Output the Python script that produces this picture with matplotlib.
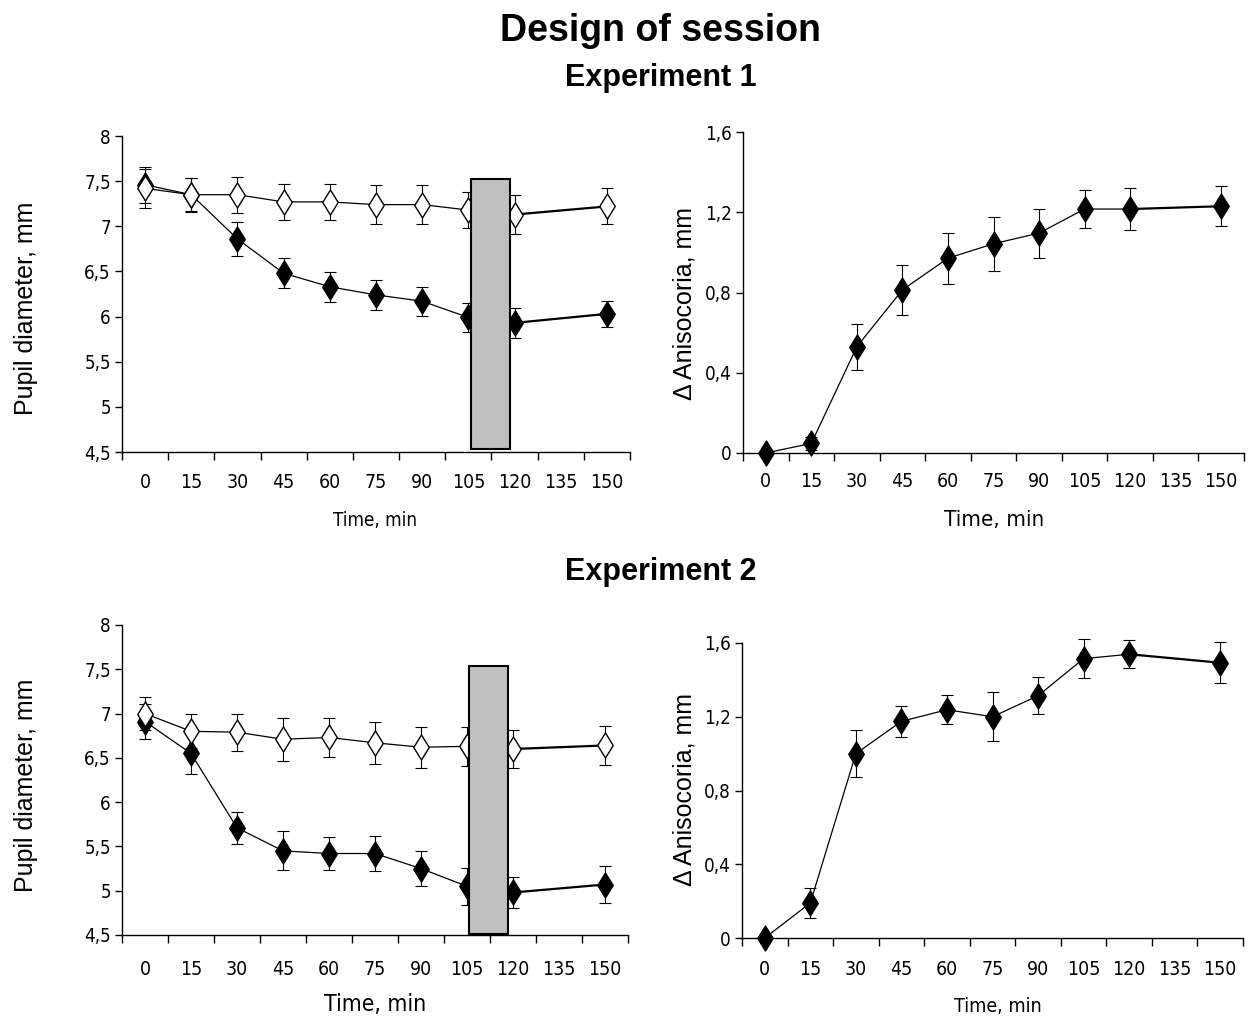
import matplotlib
matplotlib.use("Agg")
import matplotlib.pyplot as plt
from matplotlib import font_manager
from matplotlib.font_manager import FontProperties
from matplotlib.patches import Rectangle
from matplotlib.path import Path

# Category axis (Excel style): labels at centres, ticks between categories
time_labels = ["0", "15", "30", "45", "60", "75", "90", "105", "120", "135", "150"]
sample_times = [0, 15, 30, 45, 60, 75, 90, 105, 120, 150]

# Experiment 1 - pupil diameter (mm)
exp1_open = [7.42, 7.35, 7.35, 7.27, 7.27, 7.24, 7.24, 7.18, 7.13, 7.22]
exp1_open_err = [0.22, 0.19, 0.2, 0.2, 0.2, 0.22, 0.22, 0.2, 0.22, 0.2]
exp1_filled = [7.46, 7.35, 6.86, 6.48, 6.33, 6.24, 6.17, 5.99, 5.93, 6.03]
exp1_filled_err = [0.2, 0.18, 0.19, 0.165, 0.165, 0.17, 0.16, 0.16, 0.17, 0.14]
# Experiment 1 - anisocoria (mm)
exp1_aniso = [0.0, 0.048, 0.53, 0.813, 0.971, 1.043, 1.096, 1.216, 1.216, 1.23]
exp1_aniso_err = [0.0, 0.034, 0.114, 0.125, 0.127, 0.135, 0.122, 0.095, 0.106, 0.10]

# Experiment 2 - pupil diameter (mm)
exp2_open = [7.0, 6.8, 6.79, 6.71, 6.73, 6.67, 6.62, 6.63, 6.6, 6.64]
exp2_open_err = [0.185, 0.19, 0.21, 0.24, 0.22, 0.24, 0.23, 0.22, 0.21, 0.22]
exp2_filled = [6.91, 6.55, 5.71, 5.45, 5.42, 5.42, 5.25, 5.05, 4.98, 5.07]
exp2_filled_err = [0.2, 0.23, 0.18, 0.22, 0.19, 0.2, 0.2, 0.21, 0.18, 0.21]
# Experiment 2 - anisocoria (mm)
exp2_aniso = [0.0, 0.19, 1.0, 1.175, 1.238, 1.2, 1.314, 1.515, 1.539, 1.493]
exp2_aniso_err = [0.0, 0.083, 0.127, 0.084, 0.08, 0.133, 0.1, 0.107, 0.075, 0.112]

# grey stimulus block (time span in min, diameter span in mm)
exp1_block = (106, 118.5, 4.53, 7.52)
exp2_block = (105.5, 118.5, 4.51, 7.54)

plt.rcParams["font.family"] = ["Liberation Sans", "DejaVu Sans"]


def find_narrow_font():
    # Excel chart used Arial Narrow; pick the closest condensed face available
    files = [f.fname for f in font_manager.fontManager.ttflist]
    for key in ["LiberationSansNarrow-Regular", "ArialNarrow", "DejaVuSansCondensed.ttf",
                "OpenSans_Condensed-Regular", "OpenSansCondensed-Regular", "Condensed-Regular"]:
        for fn in files:
            if key.lower() in fn.lower().replace(" ", ""):
                return fn
    return None


narrow_file = find_narrow_font()


def narrow(size):
    if narrow_file:
        return FontProperties(fname=narrow_file, size=size)
    return FontProperties(family="Liberation Sans", size=size * 0.9)


def pos(t):
    return t / 15 + 0.5


diamond = Path([(0, 1), (0.62, 0), (0, -1), (-0.62, 0), (0, 1)],
               [Path.MOVETO, Path.LINETO, Path.LINETO, Path.LINETO, Path.CLOSEPOLY])


def setup_axis(ax, ylim, yticks, ylabels, pad):
    ax.set_xlim(0, len(time_labels))
    ax.set_ylim(*ylim)
    for s in ["top", "right"]:
        ax.spines[s].set_visible(False)
    for s in ["left", "bottom"]:
        ax.spines[s].set_linewidth(1.0)
    ax.set_xticks([i + 0.5 for i in range(len(time_labels))])
    ax.set_xticklabels(time_labels, fontproperties=narrow(14))
    ax.set_xticks(range(len(time_labels) + 1), minor=True)
    ax.tick_params(axis="x", which="major", length=0, pad=pad)
    ax.tick_params(axis="x", which="minor", length=6, width=1.0, direction="out")
    ax.set_yticks(yticks)
    ax.set_yticklabels(ylabels, fontproperties=narrow(13.5))
    ax.tick_params(axis="y", length=5, width=1.0, direction="out", pad=3)


def draw_series(ax, values, errs, face, z):
    xs = [pos(t) for t in sample_times]
    ax.errorbar(xs, values, yerr=errs, fmt="none", ecolor="black",
                elinewidth=0.8, capsize=4, capthick=0.8, zorder=z, clip_on=False)
    ax.plot(xs[:-1], values[:-1], color="black", lw=0.9, zorder=z + 0.1)
    ax.plot(xs[-2:], values[-2:], color="black", lw=1.6, zorder=z + 0.1)
    ax.plot(xs, values, linestyle="none", marker=diamond, markersize=18,
            markerfacecolor=face, markeredgecolor="black", markeredgewidth=1.0,
            zorder=z + 0.2, clip_on=False)


def draw_block(ax, block):
    t0, t1, y0, y1 = block
    ax.add_patch(Rectangle((pos(t0), y0), pos(t1) - pos(t0), y1 - y0,
                           facecolor="#c0c0c0", edgecolor="black", lw=1.5, zorder=10))


fig = plt.figure(figsize=(12.48, 10.19), dpi=100)
W, H = 1248, 1019


def axes_px(l, r, t, b):
    return fig.add_axes([l / W, 1 - b / H, (r - l) / W, (b - t) / H])


diam_ticks = [4.5, 5, 5.5, 6, 6.5, 7, 7.5, 8]
diam_labels = ["4,5", "5", "5,5", "6", "6,5", "7", "7,5", "8"]
aniso_ticks = [0, 0.4, 0.8, 1.2, 1.6]
aniso_labels = ["0", "0,4", "0,8", "1,2", "1,6"]

# Experiment 1
ax1 = axes_px(122, 630, 136, 452)
setup_axis(ax1, (4.5, 8), diam_ticks, diam_labels, 15)
draw_series(ax1, exp1_filled, exp1_filled_err, "black", 3)
draw_series(ax1, exp1_open, exp1_open_err, "white", 4)
draw_block(ax1, exp1_block)

ax2 = axes_px(743, 1244, 132, 453)
setup_axis(ax2, (0, 1.6), aniso_ticks, aniso_labels, 14)
draw_series(ax2, exp1_aniso, exp1_aniso_err, "black", 3)

# Experiment 2
ax3 = axes_px(122, 628, 625, 935)
setup_axis(ax3, (4.5, 8), diam_ticks, diam_labels, 18)
draw_series(ax3, exp2_filled, exp2_filled_err, "black", 3)
draw_series(ax3, exp2_open, exp2_open_err, "white", 4)
draw_block(ax3, exp2_block)

ax4 = axes_px(742, 1243, 643, 938)
setup_axis(ax4, (0, 1.6), aniso_ticks, aniso_labels, 16)
draw_series(ax4, exp2_aniso, exp2_aniso_err, "black", 3)


def ftext(x, y, s, **kw):
    fig.text(x / W, 1 - y / H, s, ha="center", va="center", **kw)


ftext(661, 31, "Design of session", fontsize=27, fontweight="bold")
ftext(661, 78, "Experiment 1", fontsize=22, fontweight="bold")
ftext(661, 572, "Experiment 2", fontsize=22, fontweight="bold")

ftext(375, 520, "Time, min", fontproperties=narrow(13.5))
ftext(994, 520, "Time, min", fontproperties=narrow(16))
ftext(375, 1004, "Time, min", fontproperties=narrow(16.5))
ftext(998, 1006, "Time, min", fontproperties=narrow(14))

ftext(26, 308, "Pupil diameter, mm", fontsize=18, rotation=90)
ftext(684, 303, "\u0394 Anisocoria, mm", fontsize=18, rotation=90)
ftext(26, 785, "Pupil diameter, mm", fontsize=18, rotation=90)
ftext(684, 790, "\u0394 Anisocoria, mm", fontsize=18, rotation=90)

fig.savefig("out.png", dpi=100)
